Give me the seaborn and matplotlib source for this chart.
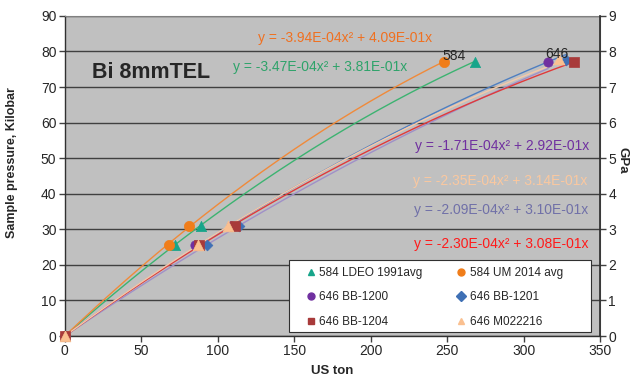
import numpy as np
import pandas as pd
import matplotlib
matplotlib.use("Agg")
import matplotlib.pyplot as plt
from matplotlib.patches import Rectangle
import seaborn as sns

sns.set_theme(style="white")
plt.rcParams['font.family'] = ['Liberation Sans', 'DejaVu Sans']

# ---- data ----
series_names = ["584 LDEO 1991avg", "584 UM 2014 avg", "646 BB-1200",
                "646 BB-1201", "646 BB-1204", "646 M022216"]
ldeo_x = [0, 72, 89, 268]
ldeo_y = [0, 25.5, 31, 77]
um_x = [0, 68, 81, 248]
um_y = [0, 25.5, 31, 77]
bb1200_x = [0, 85, 109, 316]
bb1200_y = [0, 25.5, 31, 77]
bb1201_x = [0, 93, 114, 328]
bb1201_y = [0, 25.5, 31, 77.5]
bb1204_x = [0, 88, 111, 333]
bb1204_y = [0, 25.5, 31, 77]
m022216_x = [0, 87, 107, 323]
m022216_y = [0, 25.5, 31, 78]

# trendline coefficients y = a*x^2 + b*x
coef_a = [-3.47e-4, -3.94e-4, -1.71e-4, -2.09e-4, -2.30e-4, -2.35e-4]
coef_b = [3.81e-1, 4.09e-1, 2.92e-1, 3.10e-1, 3.08e-1, 3.14e-1]
eq_labels = ["y = -3.47E-04x² + 3.81E-01x", "y = -3.94E-04x² + 4.09E-01x",
             "y = -1.71E-04x² + 2.92E-01x", "y = -2.09E-04x² + 3.10E-01x",
             "y = -2.30E-04x² + 3.08E-01x", "y = -2.35E-04x² + 3.14E-01x"]

xs_all = [ldeo_x, um_x, bb1200_x, bb1201_x, bb1204_x, m022216_x]
ys_all = [ldeo_y, um_y, bb1200_y, bb1201_y, bb1204_y, m022216_y]

marker_colors = ["#17A58A", "#F07D1A", "#7030A0", "#3F70B5", "#A83A3A", "#FAC090"]
markers = ["^", "o", "o", "D", "s", "^"]
msizes = [55, 55, 45, 30, 55, 60]
line_colors = ["#3CB371", "#F08A3A", "#A090C8", "#4F7FC0", "#E03A3A", "#F5C8A8"]
eq_colors = ["#2EA36A", "#F07020", "#7030A0", "#7070A8", "#FF1A1A", "#FAC8A0"]
eq_pos = [(233, 67), (258, 38), (589, 146), (588, 210), (588, 244), (587, 181)]  # pixel anchors

W, H = 635, 378
fig = plt.figure(figsize=(6.35, 3.78), dpi=100)
ax = fig.add_axes([0.102, 0.111, 0.843, 0.847])
ax.set_facecolor("#C0C0C0")

# trendlines
for i in range(6):
    xx = np.linspace(0, max(xs_all[i]), 200)
    yy = coef_a[i] * xx**2 + coef_b[i] * xx
    sns.lineplot(x=xx, y=yy, ax=ax, color=line_colors[i], lw=1.0, zorder=3, legend=False)

# points
handles = []
for i in range(6):
    df = pd.DataFrame({"x": xs_all[i], "y": ys_all[i]})
    sns.scatterplot(data=df, x="x", y="y", ax=ax, marker=markers[i], s=msizes[i],
                    color=marker_colors[i], edgecolor=marker_colors[i], linewidth=0.5,
                    zorder=4, clip_on=False, legend=False)
    handles.append(plt.Line2D([], [], ls="", marker=markers[i], color=marker_colors[i],
                              markersize=5, label=series_names[i]))

ax.set_xlim(0, 350)
ax.set_ylim(0, 90)
ax.set_xticks(np.arange(0, 351, 50))
ax.set_yticks(np.arange(0, 91, 10))
ax.yaxis.grid(True, color="#404040", lw=1.0)
ax.set_axisbelow(True)
ax.tick_params(axis="both", direction="out", length=4, width=1, color="#404040",
               labelsize=10, pad=2, left=True, bottom=True)
for s in ["left", "bottom"]:
    ax.spines[s].set_color("#303030")
    ax.spines[s].set_linewidth(1.0)
for s in ["top", "right"]:
    ax.spines[s].set_color("#808080")
    ax.spines[s].set_linewidth(0.8)

ax.set_xlabel("US ton", fontsize=9.5, fontweight="bold", labelpad=5)
ax.set_ylabel("Sample pressure, Kilobar", fontsize=9, fontweight="bold")
ax.yaxis.set_label_coords((18 - 65) / 535, (336 - 163) / 320)

ax2 = ax.twinx()
ax2.set_ylim(0, 9)
ax2.set_yticks(np.arange(0, 10, 1))
ax2.tick_params(axis="y", direction="out", length=4, width=1, color="#404040",
                labelsize=10, pad=2, right=True)
ax2.spines["right"].set_color("#303030")
for s in ["top", "left", "bottom"]:
    ax2.spines[s].set_visible(False)
ax2.set_ylabel("GPa", fontsize=9.5, fontweight="bold", rotation=-90)
ax2.yaxis.set_label_coords((628 - 65) / 535, (336 - 160) / 320)

# equations (pixel positions converted to figure fraction)
for i in range(6):
    px, py = eq_pos[i]
    ha = "left" if i < 2 else "right"
    fig.text(px / W, 1 - py / H, eq_labels[i], color=eq_colors[i], fontsize=10,
             ha=ha, va="center")

ax.text(17.5, 74.2, "Bi 8mmTEL", fontsize=15.5, fontweight="bold", ha="left", va="center")
ax.text(247, 78.6, "584", fontsize=10, ha="left", va="center", zorder=6)
ax.text(314, 79.2, "646", fontsize=10, ha="left", va="center", zorder=6)

# legend frame drawn as a rectangle, legend entries without frame
def ax_x(px):
    return (px - 65) / 535

def ax_y(py):
    return (336 - py) / 320

frame = Rectangle((ax_x(289), ax_y(332)), ax_x(591) - ax_x(289), ax_y(260) - ax_y(332),
                  transform=ax.transAxes, facecolor="white", edgecolor="#303030",
                  lw=0.8, zorder=9, clip_on=False)
ax.add_patch(frame)

order = [0, 2, 4, 1, 3, 5]
leg = ax.legend([handles[k] for k in order], [series_names[k] for k in order],
                ncol=2, loc="upper left", bbox_to_anchor=(ax_x(304), ax_y(267)),
                fontsize=8.5, frameon=False, handletextpad=0.1,
                handlelength=1.2, columnspacing=2.7, labelspacing=1.05,
                borderpad=0, borderaxespad=0)
leg.set_zorder(10)

fig.savefig("out.png", dpi=100)
